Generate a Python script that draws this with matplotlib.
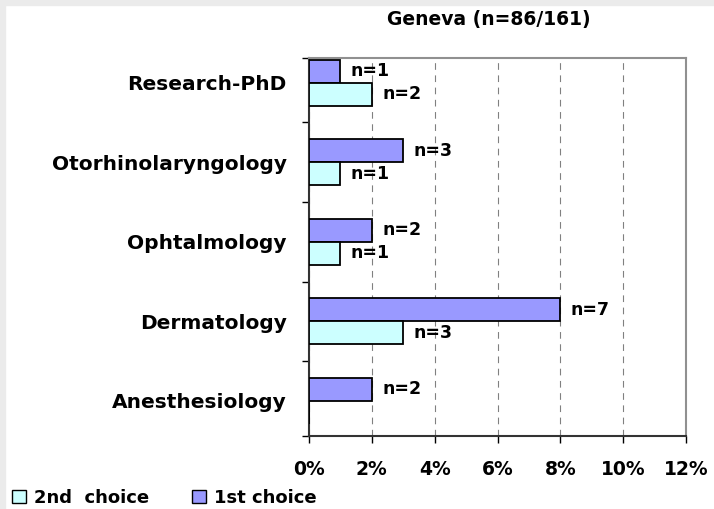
import matplotlib.pyplot as plt
from matplotlib.patches import Patch, Rectangle

# Specialty choices, Geneva
specialties = ["Anesthesiology", "Dermatology", "Ophtalmology",
               "Otorhinolaryngology", "Research-PhD"]
first_pct = [2, 8, 2, 3, 1]
second_pct = [0, 3, 1, 1, 2]
first_n = [2, 7, 2, 3, 1]
second_n = [None, 3, 1, 1, 2]
xticks = [0, 2, 4, 6, 8, 10, 12]

plt.rcParams["font.family"] = ["DejaVu Sans"]
plt.rcParams["font.weight"] = "bold"

fig = plt.figure(figsize=(7.14, 5.09), dpi=100)
fig.patches.append(Rectangle((0, 0.99), 1, 0.01, transform=fig.transFigure,
                             color="#ebebeb", zorder=0))
fig.patches.append(Rectangle((0, 0), 0.007, 1, transform=fig.transFigure,
                             color="#ebebeb", zorder=0))

ax = fig.add_axes([309 / 714, 73 / 509, 377 / 714, 378 / 509])

h = 0.29
ylo, yhi = -0.44, 4.31
pos = list(range(len(specialties)))
ax.barh([p + h / 2 for p in pos], first_pct, height=h, color="#9999ff",
        edgecolor="black", linewidth=1.3, zorder=3)
ax.barh([p - h / 2 for p in pos], second_pct, height=h, color="#ccffff",
        edgecolor="black", linewidth=1.3, zorder=3)

for p, v, n in zip(pos, first_pct, first_n):
    ax.text(v + 0.33, p + h / 2, "n=%d" % n, va="center", ha="left",
            fontsize=12.5, fontweight="bold", zorder=4)
for p, v, n in zip(pos, second_pct, second_n):
    if n is not None:
        ax.text(v + 0.33, p - h / 2, "n=%d" % n, va="center", ha="left",
                fontsize=12.5, fontweight="bold", zorder=4)

ax.set_xlim(0, 12)
ax.set_ylim(ylo, yhi)
ax.set_xticks(xticks)
ax.set_xticklabels(["%d%%" % t for t in xticks], fontsize=13.5,
                   fontweight="bold")
ax.tick_params(axis="x", length=5, width=1, pad=12, direction="out")

ax.set_yticks([ylo, 0.5, 1.5, 2.5, 3.5, yhi])
ax.set_yticklabels([])
ax.set_yticks(pos, minor=True)
ax.set_yticklabels(specialties, minor=True, fontsize=14.5, fontweight="bold")
ax.tick_params(axis="y", which="major", length=5, width=1, direction="out")
ax.tick_params(axis="y", which="minor", length=0, pad=16)

ax.xaxis.grid(True, linestyle=(0, (6, 5)), color="#808080", linewidth=0.8,
              zorder=0)
ax.set_axisbelow(True)

for s in ["left", "bottom"]:
    ax.spines[s].set_color("#333333")
    ax.spines[s].set_linewidth(1.5)
for s in ["top", "right"]:
    ax.spines[s].set_color("#909090")
    ax.spines[s].set_linewidth(1.5)

fig.text(489 / 714, 1 - 20 / 509, "Geneva (n=86/161)", ha="center",
         va="center", fontsize=13.5, fontweight="bold")

handles = [Patch(facecolor="#ccffff", edgecolor="black", label="2nd  choice"),
           Patch(facecolor="#9999ff", edgecolor="black", label="1st choice")]
fig.legend(handles=handles, loc="center left",
           bbox_to_anchor=(12 / 714, 1 - 498 / 509),
           ncol=2, frameon=False, fontsize=13, handlelength=0.75,
           handleheight=0.75, handletextpad=0.45, columnspacing=2.4,
           borderaxespad=0, borderpad=0)

fig.savefig("out.png", dpi=100)
